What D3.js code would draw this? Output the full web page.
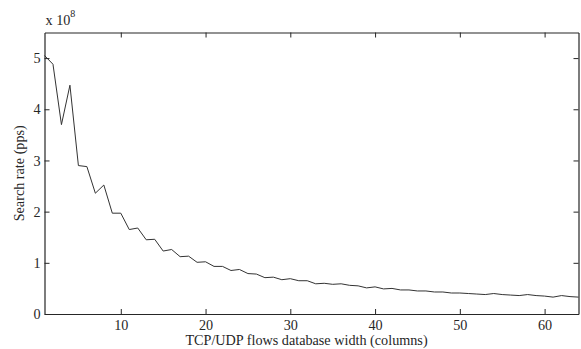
<!DOCTYPE html>
<html>
<head>
<meta charset="utf-8">
<script src="https://cdn.jsdelivr.net/npm/d3@7"></script>
<style>
  body { margin: 0; background: #fff; }
  svg text { font-family: "Liberation Serif", "Times New Roman", serif; fill: #262626; }
</style>
</head>
<body>
<script>
// database width (columns)
var widths = d3.range(1, 65);
// search rate, units of 1e8 pps
var rates = [
  5.05, 4.88, 3.70, 4.47, 2.90, 2.88, 2.36, 2.52, 1.97, 1.97,
  1.65, 1.68, 1.45, 1.46, 1.23, 1.26, 1.12, 1.13, 1.01, 1.02,
  0.93, 0.93, 0.85, 0.87, 0.79, 0.78, 0.71, 0.72, 0.67, 0.69,
  0.65, 0.65, 0.59, 0.60, 0.58, 0.59, 0.56, 0.55, 0.51, 0.53,
  0.49, 0.50, 0.47, 0.47, 0.45, 0.45, 0.43, 0.43, 0.41, 0.41,
  0.40, 0.39, 0.38, 0.40, 0.38, 0.37, 0.36, 0.38, 0.36, 0.35,
  0.33, 0.36, 0.34, 0.33
];
var xTicks = [10, 20, 30, 40, 50, 60];
var yTicks = [0, 1, 2, 3, 4, 5];

function init() {
    var w = 581, h = 349;
    var mLeft = 44.5, mRight = 578.5, mTop = 32.5, mBottom = 314;

    var data = widths.map(function(d, i) { return { x: d, y: rates[i] }; });

    var xScale = d3.scaleLinear().domain([1, 64]).range([mLeft, mRight]);
    var yScale = d3.scaleLinear().domain([0, 5.5]).range([mBottom, mTop]);

    var svg = d3.select("body").append("svg")
        .attr("width", w)
        .attr("height", h);

    // data line
    var line = d3.line()
        .x(function(d) { return xScale(d.x); })
        .y(function(d) { return yScale(d.y); });

    svg.append("path")
        .datum(data)
        .attr("d", line)
        .attr("fill", "none")
        .attr("stroke", "#333")
        .attr("stroke-width", 1);

    // axes, MATLAB style: inward ticks, mirrored on top/right
    var fs = 14.2;
    var fmt = d3.format("d");
    var xb = svg.append("g")
        .attr("transform", "translate(0," + mBottom + ")")
        .call(d3.axisBottom(xScale).tickValues(xTicks).tickFormat(fmt).tickSizeInner(-5).tickSizeOuter(0).tickPadding(6));
    var xt = svg.append("g")
        .attr("transform", "translate(0," + mTop + ")")
        .call(d3.axisTop(xScale).tickValues(xTicks).tickSizeInner(-5).tickSizeOuter(0).tickFormat(""));
    var yl = svg.append("g")
        .attr("transform", "translate(" + mLeft + ",0)")
        .call(d3.axisLeft(yScale).tickValues(yTicks).tickFormat(fmt).tickSizeInner(-5).tickSizeOuter(0).tickPadding(4));
    var yr = svg.append("g")
        .attr("transform", "translate(" + mRight + ",0)")
        .call(d3.axisRight(yScale).tickValues(yTicks).tickSizeInner(-5).tickSizeOuter(0).tickFormat(""));

    [xb, xt, yl, yr].forEach(function(g) {
        g.selectAll(".domain").attr("stroke", "#262626").attr("stroke-width", 1.2);
        g.selectAll(".tick line").attr("stroke", "#262626");
        g.selectAll("text").style("font-family", "Liberation Serif").style("font-size", fs + "px").attr("fill", "#262626");
    });

    // exponent label
    var ex = svg.append("text")
        .attr("x", mLeft + 1)
        .attr("y", 25)
        .style("font-size", fs + "px");
    ex.append("tspan").text("x 10");
    ex.append("tspan").attr("dy", -8).style("font-size", "10px").text("8");

    // axis titles
    svg.append("text")
        .attr("x", (mLeft + mRight) / 2 - 5)
        .attr("y", 344.5)
        .attr("text-anchor", "middle")
        .style("font-size", fs + "px")
        .text("TCP/UDP flows database width (columns)");

    svg.append("text")
        .attr("transform", "translate(24," + ((mTop + mBottom) / 2) + ") rotate(-90)")
        .attr("text-anchor", "middle")
        .style("font-size", fs + "px")
        .text("Search rate (pps)");
}

init();
</script>
</body>
</html>
